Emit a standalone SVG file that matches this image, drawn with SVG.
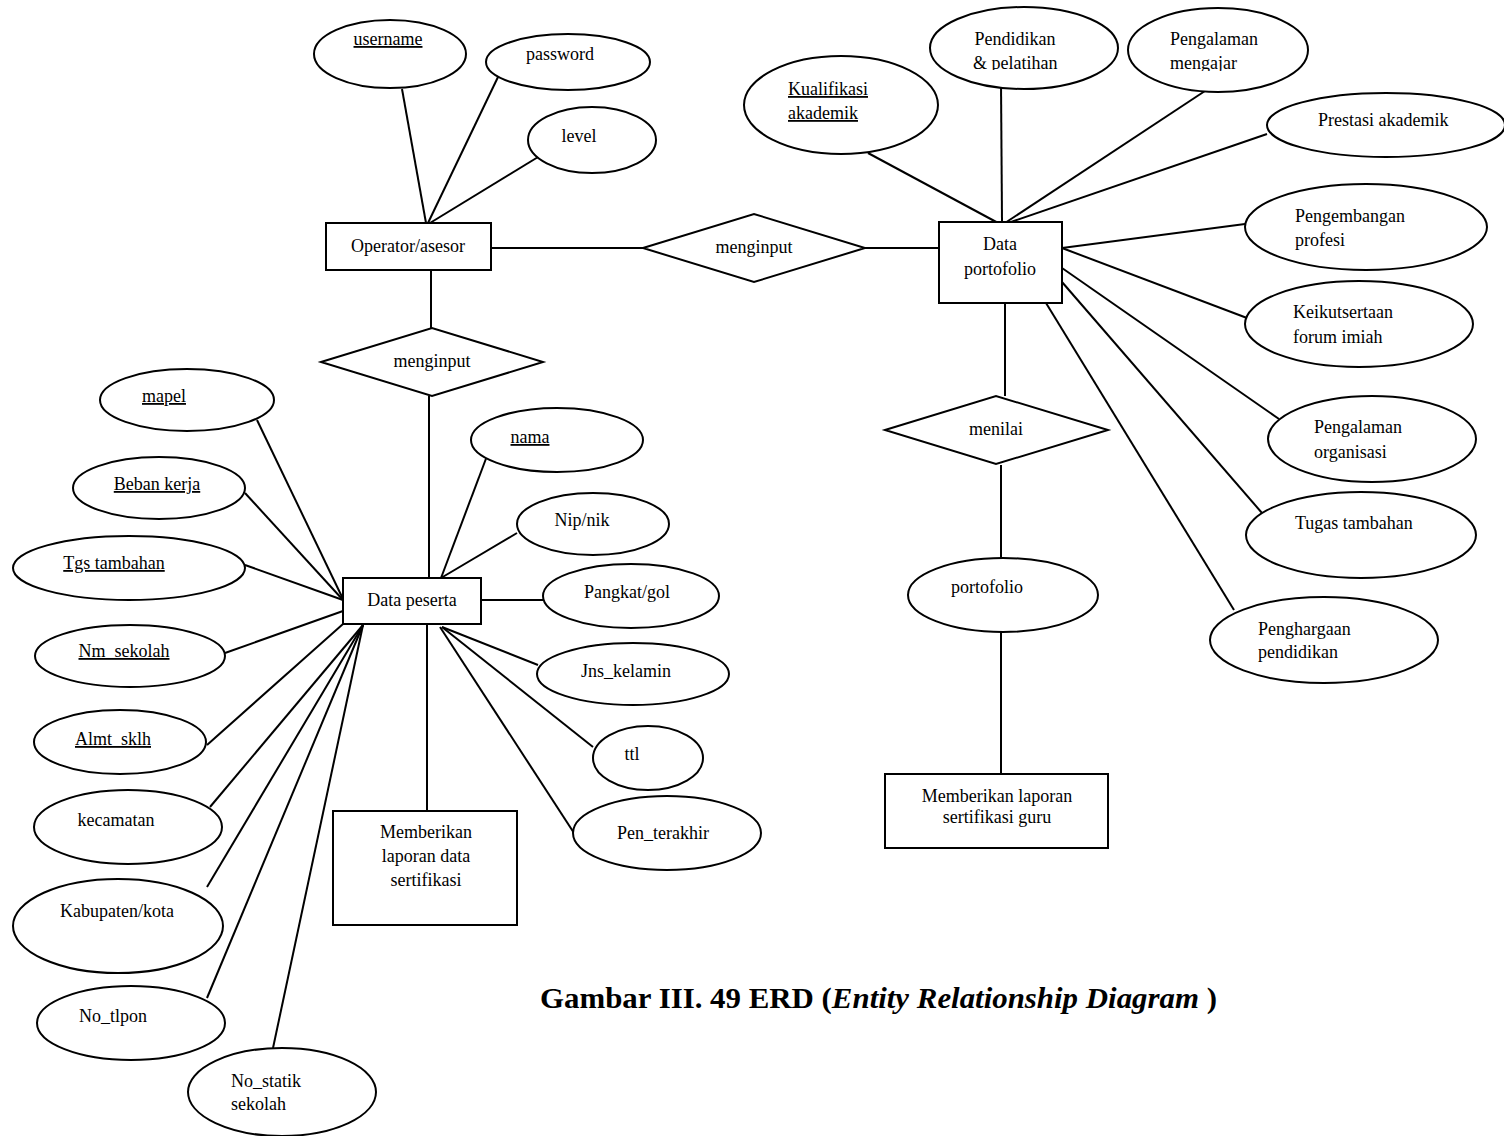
<svg xmlns="http://www.w3.org/2000/svg" width="1504" height="1136" viewBox="0 0 1504 1136">
<style>
.s{fill:#fff;stroke:#000;stroke-width:2}
.t{font-family:"Liberation Serif","Times New Roman",serif;font-size:18px;fill:#000}
.m{text-anchor:middle}
.u{text-decoration:underline}
.c line{stroke:#000;stroke-width:2}
.cap{font-family:"Liberation Serif","Times New Roman",serif;font-size:29px;font-weight:bold;fill:#000}
</style>
<defs>
<clipPath id="clipA"><rect x="900" y="0" width="240" height="70"/></clipPath>
<clipPath id="clipB"><rect x="1120" y="0" width="200" height="71"/></clipPath>
</defs>
<rect width="1504" height="1136" fill="#fff"/>
<g id="connectors" class="c">
<line x1="402" y1="89" x2="426" y2="223"/>
<line x1="498" y1="77" x2="428" y2="223"/>
<line x1="543" y1="154" x2="430" y2="223"/>
<line x1="491" y1="248" x2="643" y2="248"/>
<line x1="865" y1="248" x2="939" y2="248"/>
<line x1="868" y1="153" x2="1000" y2="224"/>
<line x1="1001" y1="83" x2="1002" y2="222"/>
<line x1="1208" y1="89" x2="1005" y2="223"/>
<line x1="1267" y1="134" x2="1008" y2="223"/>
<line x1="1245" y1="224" x2="1062" y2="248"/>
<line x1="1062" y1="248" x2="1247" y2="318"/>
<line x1="1062" y1="268" x2="1279" y2="419"/>
<line x1="1062" y1="282" x2="1262" y2="513"/>
<line x1="1046" y1="303" x2="1234" y2="610"/>
<line x1="1005" y1="303" x2="1005" y2="396"/>
<line x1="1001" y1="465" x2="1001" y2="564"/>
<line x1="1001" y1="632" x2="1001" y2="774"/>
<line x1="431" y1="270" x2="431" y2="328"/>
<line x1="429" y1="396" x2="429" y2="578"/>
<line x1="487" y1="456" x2="441" y2="578"/>
<line x1="517" y1="533" x2="441" y2="578"/>
<line x1="481" y1="600" x2="543" y2="600"/>
<line x1="442" y1="627" x2="538" y2="665"/>
<line x1="442" y1="627" x2="593" y2="747"/>
<line x1="440" y1="627" x2="574" y2="833"/>
<line x1="427" y1="624" x2="427" y2="811"/>
<line x1="257" y1="420" x2="343" y2="599"/>
<line x1="245" y1="493" x2="343" y2="600"/>
<line x1="245" y1="565" x2="343" y2="600"/>
<line x1="225" y1="653" x2="343" y2="611"/>
<line x1="207" y1="745" x2="343" y2="624"/>
<line x1="210" y1="807" x2="363" y2="625"/>
<line x1="207" y1="887" x2="363" y2="625"/>
<line x1="207" y1="998" x2="363" y2="625"/>
<line x1="273" y1="1048" x2="363" y2="625"/>
</g>
<g id="operator"><rect class="s" x="326" y="223" width="165" height="47"/><text class="t m" x="408" y="252">Operator/asesor</text></g>
<g id="username"><ellipse class="s" cx="390" cy="54" rx="76" ry="34"/><text class="t m u" x="388" y="45">username</text></g>
<g id="password"><ellipse class="s" cx="568" cy="62" rx="82" ry="28"/><text class="t m" x="560" y="60">password</text></g>
<g id="level"><ellipse class="s" cx="592" cy="140" rx="64" ry="33"/><text class="t m" x="579" y="142">level</text></g>
<g id="rel-menginput-1"><polygon class="s" points="643,248 754,214 865,248 754,282"/><text class="t m" x="754" y="253">menginput</text></g>
<g id="data-portofolio"><rect class="s" x="939" y="222" width="123" height="81"/><text class="t m" x="1000" y="250">Data</text><text class="t m" x="1000" y="275">portofolio</text></g>
<g id="kualifikasi"><ellipse class="s" cx="841" cy="105" rx="97" ry="49"/><text class="t u" x="788" y="95">Kualifikasi</text><text class="t u" x="788" y="119">akademik</text></g>
<g id="pendidikan"><ellipse class="s" cx="1024" cy="48" rx="94" ry="41"/><g clip-path="url(#clipA)"><text class="t m" x="1015" y="45">Pendidikan</text><text class="t" x="973" y="69">&amp; pelatihan</text></g></g>
<g id="pengalaman-mengajar"><ellipse class="s" cx="1218" cy="50" rx="90" ry="42"/><g clip-path="url(#clipB)"><text class="t" x="1170" y="45">Pengalaman</text><text class="t" x="1170" y="69">mengajar</text></g></g>
<g id="prestasi"><ellipse class="s" cx="1386" cy="125" rx="119" ry="32"/><text class="t" x="1318" y="126">Prestasi akademik</text></g>
<g id="pengembangan"><ellipse class="s" cx="1366" cy="227" rx="121" ry="43"/><text class="t" x="1295" y="222">Pengembangan</text><text class="t" x="1295" y="246">profesi</text></g>
<g id="keikutsertaan"><ellipse class="s" cx="1359" cy="324" rx="114" ry="43"/><text class="t" x="1293" y="318">Keikutsertaan</text><text class="t" x="1293" y="343">forum imiah</text></g>
<g id="pengalaman-organisasi"><ellipse class="s" cx="1372" cy="439" rx="104" ry="43"/><text class="t" x="1314" y="433">Pengalaman</text><text class="t" x="1314" y="458">organisasi</text></g>
<g id="tugas-tambahan"><ellipse class="s" cx="1361" cy="535" rx="115" ry="43"/><text class="t" x="1295" y="529">Tugas tambahan</text></g>
<g id="penghargaan"><ellipse class="s" cx="1324" cy="640" rx="114" ry="43"/><text class="t" x="1258" y="635">Penghargaan</text><text class="t" x="1258" y="658">pendidikan</text></g>
<g id="rel-menilai"><polygon class="s" points="885,430 996,396 1108,430 996,464"/><text class="t m" x="996" y="435">menilai</text></g>
<g id="portofolio"><ellipse class="s" cx="1003" cy="595" rx="95" ry="37"/><text class="t" x="951" y="593">portofolio</text></g>
<g id="laporan-guru"><rect class="s" x="885" y="774" width="223" height="74"/><text class="t m" x="997" y="802">Memberikan laporan</text><text class="t m" x="997" y="823">sertifikasi guru</text></g>
<g id="rel-menginput-2"><polygon class="s" points="321,362 432,328 543,362 432,396"/><text class="t m" x="432" y="367">menginput</text></g>
<g id="data-peserta"><rect class="s" x="343" y="578" width="138" height="46"/><text class="t m" x="412" y="606">Data peserta</text></g>
<g id="laporan-data"><rect class="s" x="333" y="811" width="184" height="114"/><text class="t m" x="426" y="838">Memberikan</text><text class="t m" x="426" y="862">laporan data</text><text class="t m" x="426" y="886">sertifikasi</text></g>
<g id="nama"><ellipse class="s" cx="557" cy="440" rx="86" ry="32"/><text class="t m u" x="530" y="443">nama</text></g>
<g id="nip"><ellipse class="s" cx="593" cy="524" rx="76" ry="31"/><text class="t m" x="582" y="526">Nip/nik</text></g>
<g id="pangkat"><ellipse class="s" cx="631" cy="596" rx="88" ry="32"/><text class="t m" x="627" y="598">Pangkat/gol</text></g>
<g id="jns-kelamin"><ellipse class="s" cx="633" cy="674" rx="96" ry="31"/><text class="t m" x="626" y="677">Jns_kelamin</text></g>
<g id="ttl"><ellipse class="s" cx="648" cy="758" rx="55" ry="32"/><text class="t m" x="632" y="760">ttl</text></g>
<g id="pen-terakhir"><ellipse class="s" cx="667" cy="833" rx="94" ry="37"/><text class="t m" x="663" y="839">Pen_terakhir</text></g>
<g id="mapel"><ellipse class="s" cx="187" cy="400" rx="87" ry="31"/><text class="t m u" x="164" y="402">mapel</text></g>
<g id="beban-kerja"><ellipse class="s" cx="159" cy="488" rx="86" ry="31"/><text class="t m u" x="157" y="490">Beban kerja</text></g>
<g id="tgs-tambahan"><ellipse class="s" cx="129" cy="568" rx="116" ry="32"/><text class="t m u" x="114" y="569">Tgs tambahan</text></g>
<g id="nm-sekolah"><ellipse class="s" cx="130" cy="656" rx="95" ry="31"/><text class="t m u" x="124" y="657">Nm_sekolah</text></g>
<g id="almt-sklh"><ellipse class="s" cx="120" cy="742" rx="86" ry="32"/><text class="t m u" x="113" y="745">Almt_sklh</text></g>
<g id="kecamatan"><ellipse class="s" cx="128" cy="827" rx="94" ry="37"/><text class="t m" x="116" y="826">kecamatan</text></g>
<g id="kabupaten"><ellipse class="s" cx="118" cy="926" rx="105" ry="47"/><text class="t m" x="117" y="917">Kabupaten/kota</text></g>
<g id="no-tlpon"><ellipse class="s" cx="131" cy="1023" rx="94" ry="37"/><text class="t m" x="113" y="1022">No_tlpon</text></g>
<g id="no-statik"><ellipse class="s" cx="282" cy="1092" rx="94" ry="44"/><text class="t" x="231" y="1087">No_statik</text><text class="t" x="231" y="1110">sekolah</text></g>
<text class="cap" x="540" y="1008" textLength="677" lengthAdjust="spacingAndGlyphs">Gambar III. 49 ERD (<tspan font-style="italic">Entity Relationship Diagram</tspan> )</text>
</svg>
